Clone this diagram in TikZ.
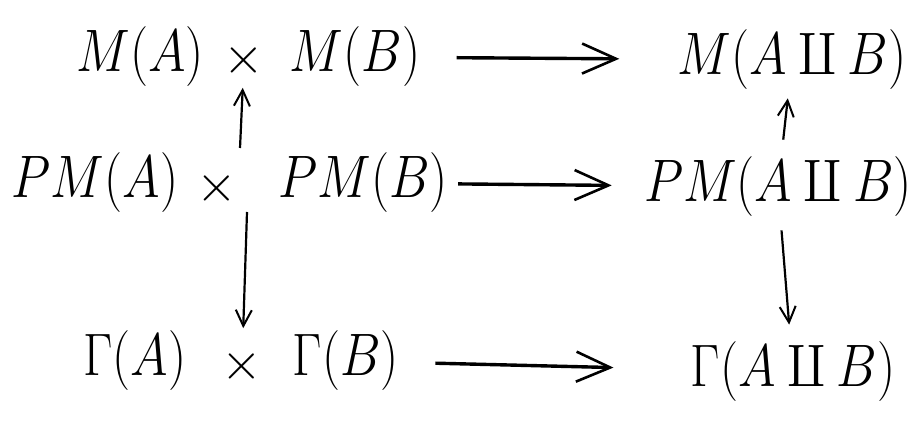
\documentclass[tikz,border=0pt]{standalone}
\usetikzlibrary{arrows.meta}
\begin{document}
\begin{tikzpicture}[x=1pt,y=-1pt,
  obj/.style={inner sep=0pt,xscale=2.05,yscale=2.41,font=\Huge},
  times/.style={inner sep=0pt,scale=2.1,font=\Huge},
  harr/.style={line width=3.4pt,-{Straight Barb[length=34pt,width=30pt,line width=2.6pt]}},
  varr/.style={line width=2.2pt,-{Straight Barb[length=16pt,width=16pt,line width=2pt]}}]
\useasboundingbox (0,0) rectangle (915,430);
% row 1
\node[obj] (ma) at (140,57) {$M(A)$};
\node[times] (x1) at (244,60) {$\times$};
\node[obj] (mb) at (355,57) {$M(B)$};
\node[obj] (mab) at (792,60) {$M(A\amalg B)$};
% row 2
\node[obj] (pma) at (95,183) {$PM(A)$};
\node[times] (x2) at (217,188) {$\times$};
\node[obj] (pmb) at (363,183) {$PM(B)$};
\node[obj] (pmab) at (778,187) {$PM(A\amalg B)$};
% row 3
\node[obj] (ga) at (135,361) {$\Gamma(A)$};
\node[times] (x3) at (242,366) {$\times$};
\node[obj] (gb) at (346,361) {$\Gamma(B)$};
\node[obj] (gab) at (793,372) {$\Gamma(A\amalg B)$};
% hubs of the middle product
\coordinate (p2u) at (240,148);
\coordinate (p2d) at (247,212);
% horizontal arrows
\draw[harr,shorten <=36pt,shorten >=58pt] (mb) -- (mab);
\draw[harr,shorten <=10pt,shorten >=32pt] (pmb) -- (pmab);
\draw[harr,shorten <=36pt,shorten >=77pt] (gb) -- (gab);
% vertical arrows
\draw[varr,shorten >=10pt] (p2u) -- (x1);
\draw[varr,shorten >=20pt] (p2d) -- (x3);
\draw[varr,shorten <=17pt,shorten >=8pt] (pmab) -- (mab);
\draw[varr,shorten <=13pt,shorten >=17pt] (pmab) -- (gab);
\end{tikzpicture}
\end{document}
